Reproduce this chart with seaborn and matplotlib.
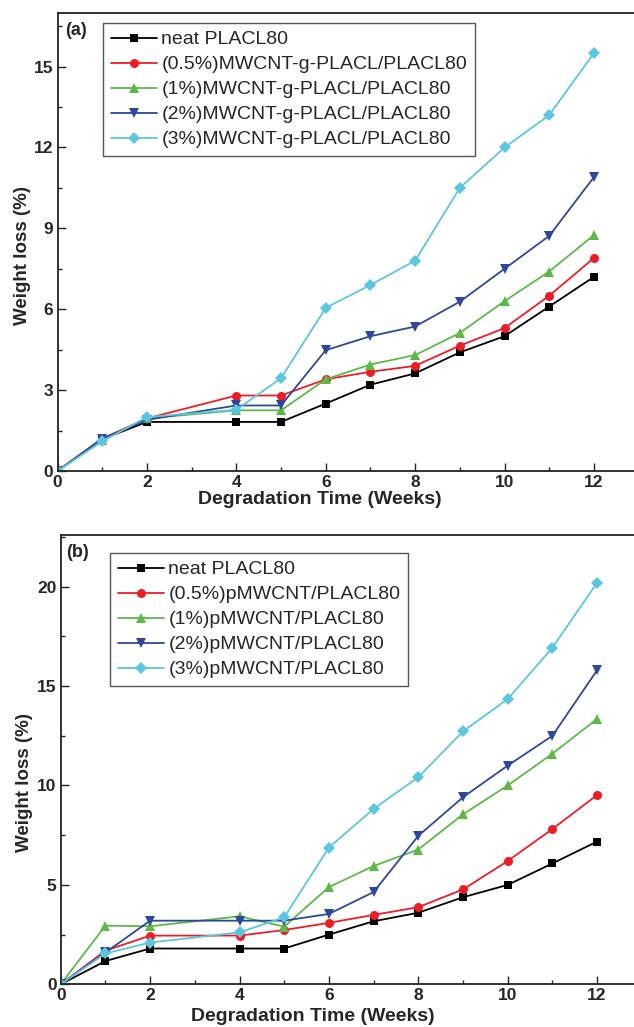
import matplotlib
matplotlib.use("Agg")
import matplotlib.pyplot as plt
import seaborn as sns
import pandas as pd

# Degradation time points (weeks)
weeks = [0, 1, 2, 4, 5, 6, 7, 8, 9, 10, 11, 12]

# Panel (a): MWCNT-g-PLACL composites
labels_a = ["neat PLACL80",
            "(0.5%)MWCNT-g-PLACL/PLACL80",
            "(1%)MWCNT-g-PLACL/PLACL80",
            "(2%)MWCNT-g-PLACL/PLACL80",
            "(3%)MWCNT-g-PLACL/PLACL80"]
neat_a = [0, 1.18, 1.82, 1.82, 1.82, 2.5, 3.2, 3.62, 4.4, 5.0, 6.1, 7.2]
mw05_a = [0, 1.2, 1.95, 2.8, 2.8, 3.4, 3.68, 3.9, 4.65, 5.3, 6.5, 7.9]
mw1_a = [0, 1.15, 1.95, 2.25, 2.25, 3.4, 3.95, 4.3, 5.12, 6.3, 7.4, 8.75]
mw2_a = [0, 1.2, 1.9, 2.43, 2.43, 4.48, 5.0, 5.36, 6.28, 7.5, 8.72, 10.9]
mw3_a = [0, 1.1, 2.0, 2.27, 3.44, 6.05, 6.9, 7.8, 10.5, 12.0, 13.2, 15.5]

# Panel (b): pMWCNT composites
labels_b = ["neat PLACL80",
            "(0.5%)pMWCNT/PLACL80",
            "(1%)pMWCNT/PLACL80",
            "(2%)pMWCNT/PLACL80",
            "(3%)pMWCNT/PLACL80"]
neat_b = [0, 1.17, 1.8, 1.8, 1.8, 2.5, 3.17, 3.6, 4.38, 5.0, 6.08, 7.18]
pmw05_b = [0, 1.69, 2.45, 2.45, 2.73, 3.09, 3.49, 3.88, 4.77, 6.2, 7.81, 9.52]
pmw1_b = [0, 2.95, 2.92, 3.42, 2.9, 4.89, 5.95, 6.78, 8.55, 10.0, 11.6, 13.35]
pmw2_b = [0, 1.6, 3.2, 3.2, 3.2, 3.54, 4.64, 7.47, 9.41, 11.0, 12.5, 15.8]
pmw3_b = [0, 1.55, 2.1, 2.61, 3.37, 6.88, 8.82, 10.42, 12.72, 14.35, 16.93, 20.2]

colors = ["#000000", "#ee1d25", "#5cb947", "#2d479c", "#5bc6df"]
markers = ["s", "o", "^", "v", "D"]
msizes = [5.5, 6.5, 7.5, 7.5, 6.0]

sns.set_theme(style="ticks")
plt.rcParams["font.family"] = ["Liberation Sans", "DejaVu Sans"]

W, H = 634, 1027
fig = plt.figure(figsize=(W / 100, H / 100), dpi=100)


def px_axes(left, top, bottom):
    return fig.add_axes([left / W, 1 - bottom / H, 1 - left / W, (bottom - top) / H])


def draw_panel(ax, series, labels, ylim, ymajor, tag, leg_xy, tag_xy, xmax,
               xlab_xy, ylab_xy):
    for vals, lab, c, m, ms in zip(series, labels, colors, markers, msizes):
        df = pd.DataFrame({"week": weeks, "loss": vals})
        sns.lineplot(data=df, x="week", y="loss", ax=ax, color=c, marker=m,
                     markersize=ms, markeredgewidth=0, linewidth=1.3,
                     label=lab, legend=False)
    ax.set_xlim(0, xmax)
    ax.set_ylim(*ylim)
    ax.set_xticks(range(0, 13, 2))
    ax.set_xticks(range(1, 13, 2), minor=True)
    n = int(ylim[1] // ymajor) + 1
    ax.set_yticks([ymajor * i for i in range(n)])
    ax.set_yticks([ymajor * (i + 0.5) for i in range(n)
                   if ymajor * (i + 0.5) < ylim[1]], minor=True)
    ax.tick_params(which="both", direction="in", width=1.0, color="#222222",
                   labelsize=12.5, pad=3)
    ax.tick_params(which="major", length=6)
    ax.tick_params(which="minor", length=3)
    for lbl in ax.get_xticklabels() + ax.get_yticklabels():
        lbl.set_fontweight("bold")
    for s in ["left", "bottom", "top"]:
        ax.spines[s].set_linewidth(1.3)
        ax.spines[s].set_color("#222222")
    ax.spines["right"].set_visible(False)
    ax.set_xlabel("Degradation Time (Weeks)", fontsize=14, fontweight="bold")
    ax.xaxis.set_label_coords(*xlab_xy)
    ax.set_ylabel("Weight loss (%)", fontsize=13.5, fontweight="bold")
    ax.yaxis.set_label_coords(*ylab_xy)
    ax.text(tag_xy[0] / W, 1 - tag_xy[1] / H, tag, transform=fig.transFigure,
            ha="left", va="top", fontsize=13, fontweight="bold")
    leg = ax.legend(loc="upper left",
                    bbox_to_anchor=(leg_xy[0] / W, 1 - leg_xy[1] / H),
                    bbox_transform=fig.transFigure, borderaxespad=0,
                    fontsize=14, frameon=True, fancybox=False, framealpha=1,
                    edgecolor="#555555", handlelength=2.4, handletextpad=0.2,
                    labelspacing=0.38, borderpad=0.4, numpoints=1)
    leg.get_frame().set_linewidth(1.0)


ax_a = px_axes(57.5, 12.7, 471)
draw_panel(ax_a, [neat_a, mw05_a, mw1_a, mw2_a, mw3_a], labels_a, (0, 17), 3,
           "(a)", (103, 23), (65, 22), (634 - 57.5) / 44.7,
           (0.455, -0.043), (-0.046, 0.47))

ax_b = px_axes(60.7, 535, 984.3)
draw_panel(ax_b, [neat_b, pmw05_b, pmw1_b, pmw2_b, pmw3_b], labels_b, (0, 22.6), 5,
           "(b)", (110, 553), (66, 544), (634 - 60.7) / 44.7,
           (0.44, -0.052), (-0.049, 0.45))

fig.savefig("out.png", dpi=100, facecolor="white")
